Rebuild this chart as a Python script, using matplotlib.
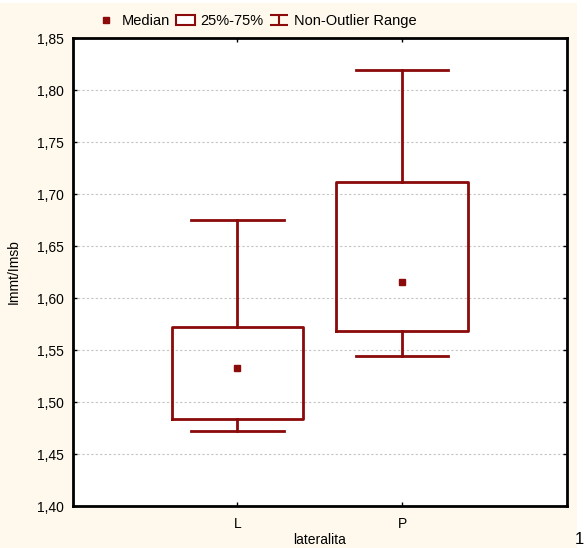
import matplotlib
matplotlib.use("Agg")
import matplotlib.pyplot as plt
from matplotlib.lines import Line2D
from matplotlib.patches import Patch, Rectangle
from matplotlib.path import Path
from matplotlib.ticker import FuncFormatter

# data
categories = ["L", "P"]
whisker_low = [1.472, 1.544]
q1 = [1.484, 1.568]
median = [1.533, 1.615]
q3 = [1.572, 1.712]
whisker_high = [1.675, 1.819]

yticks = [1.40, 1.45, 1.50, 1.55, 1.60, 1.65, 1.70, 1.75, 1.80, 1.85]

red = "#8B0A0A"
cream = "#FEF9EC"

plt.rcParams["font.family"] = ["Liberation Sans", "DejaVu Sans"]
plt.rcParams["font.size"] = 10

fig = plt.figure(figsize=(5.85, 5.48), dpi=100, facecolor="white")
fig.patches.append(Rectangle((0, 0), 577 / 585, 545 / 548, transform=fig.transFigure,
                             facecolor=cream, edgecolor="none", zorder=-10))
ax = fig.add_axes([72.7 / 585, 42 / 548, (567 - 72.7) / 585, (506 - 38) / 548])
ax.set_facecolor("white")

positions = list(range(1, len(categories) + 1))
stats = []
for i in range(len(categories)):
    stats.append(dict(whislo=whisker_low[i], q1=q1[i], med=median[i], q3=q3[i],
                      whishi=whisker_high[i], fliers=[]))

ax.bxp(stats, positions=positions, widths=0.8, capwidths=0.56, showfliers=False,
       boxprops=dict(color=red, linewidth=2),
       whiskerprops=dict(color=red, linewidth=2),
       capprops=dict(color=red, linewidth=2),
       medianprops=dict(visible=False), zorder=3)
ax.plot(positions, median, linestyle="none", marker="s", markersize=5,
        markerfacecolor=red, markeredgecolor=red, zorder=4)

ax.set_xlim(0, 3)
ax.set_ylim(1.40, 1.85)
ax.set_xticks(positions)
ax.set_xticklabels(categories)
ax.set_yticks(yticks)
ax.yaxis.set_major_formatter(FuncFormatter(lambda v, p: f"{v:.2f}".replace(".", ",")))
ax.tick_params(direction="in", length=3, width=1, top=True, right=True)
ax.tick_params(axis="y", pad=6)
ax.tick_params(axis="x", pad=8)
ax.yaxis.grid(True, linestyle=(0, (2, 2)), color="#C4C4C4", linewidth=0.8)
ax.set_axisbelow(True)
for s in ax.spines.values():
    s.set_linewidth(2)

ax.set_xlabel("lateralita", labelpad=1)
ax.set_ylabel("Immt/Imsb", labelpad=12)

# legend with a whisker-like symbol
whisk = Path([(-1, 0.5), (1, 0.5), (0, 0.5), (0, -0.5), (-1, -0.5), (1, -0.5)],
             [Path.MOVETO, Path.LINETO, Path.MOVETO, Path.LINETO, Path.MOVETO, Path.LINETO])
handles = [
    Line2D([], [], linestyle="none", marker="s", markersize=4.5, color=red),
    Patch(facecolor="white", edgecolor=red, linewidth=1.5),
    Line2D([], [], linestyle="none", marker=whisk, markersize=13, markeredgewidth=1.5,
           color=red, markerfacecolor="none"),
]
fig.legend(handles, ["Median", "25%-75%", "Non-Outlier Range"], loc="center",
           bbox_to_anchor=(257 / 585, 1 - 21 / 548), ncol=3, frameon=False,
           handlelength=1.3, handletextpad=0.4, columnspacing=0.4, fontsize=10.5)

fig.text(0.998, 0.002, "1", fontsize=12, ha="right", va="bottom")

fig.savefig("out.png", dpi=100, facecolor=fig.get_facecolor())
